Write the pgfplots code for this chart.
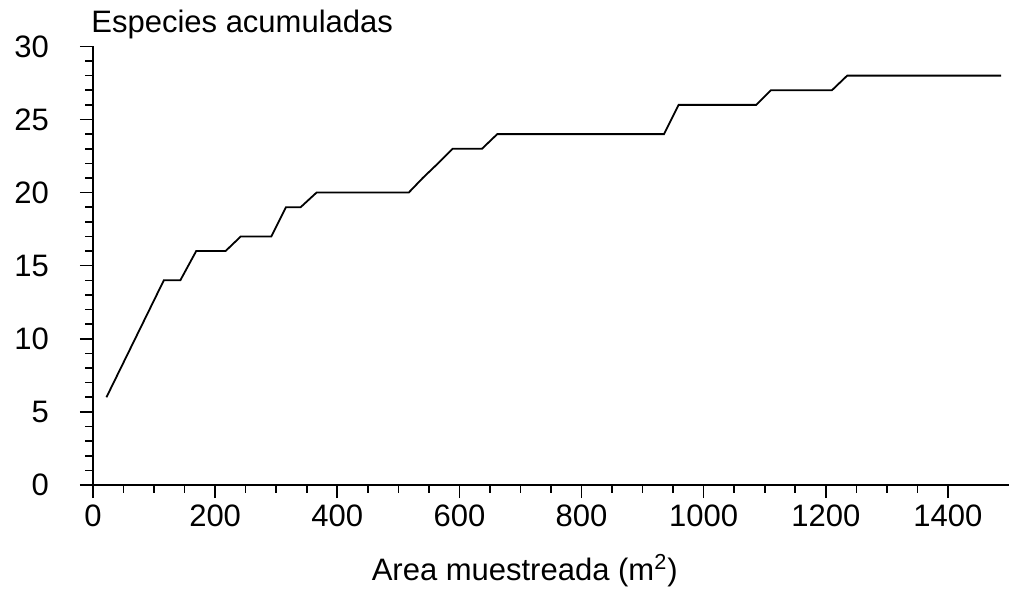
\documentclass[border=0pt]{standalone}
\usepackage{pgfplots}
\pgfplotsset{compat=1.18}
\usepackage{fontspec}
\setmainfont{Liberation Sans}
\begin{document}
\begin{tikzpicture}
\useasboundingbox (-46.5pt,-54pt) rectangle (469pt,242.5pt);
\begin{axis}[
  at={(0,0)}, anchor=south west,
  scale only axis,
  width=458pt, height=219.3pt,
  xmin=0, xmax=1500, ymin=0, ymax=30,
  axis lines*=left,
  axis line style={line width=0.9pt},
  xtick={0,200,...,1400},
  ytick={0,5,...,30},
  minor x tick num=3,
  minor y tick num=4,
  tick align=outside,
  major tick length=6.5pt,
  minor tick length=3.75pt,
  every tick/.style={black, line width=0.8pt},
  tick label style={font=\fontsize{15.5}{18}\selectfont},
  yticklabel style={xshift=-12pt},
  /pgf/number format/assume math mode=true,
  /pgf/number format/1000 sep={},
  clip=false,
]
\addplot[black, line width=0.9pt] coordinates {
(22,6) (69,10) (116,14) (143,14) (169,16) (217,16) (242,17) (292,17)
(316,19) (340,19) (366,20) (517,20) (540,21) (565,22) (589,23) (637,23)
(662,24) (935,24) (959,26) (1086,26) (1110,27) (1210,27) (1235,28) (1487,28)
};
\node[anchor=base west, inner sep=0pt, font=\fontsize{15.5}{18}\selectfont] at ([xshift=-1pt,yshift=6.7pt]rel axis cs:0,1) {Especies acumuladas};
\node[anchor=base, inner sep=0pt, font=\fontsize{15.5}{18}\selectfont] at ([yshift=-47.5pt]axis cs:707,0) {Area muestreada (m\textsuperscript{2})};
\end{axis}
\end{tikzpicture}
\end{document}
